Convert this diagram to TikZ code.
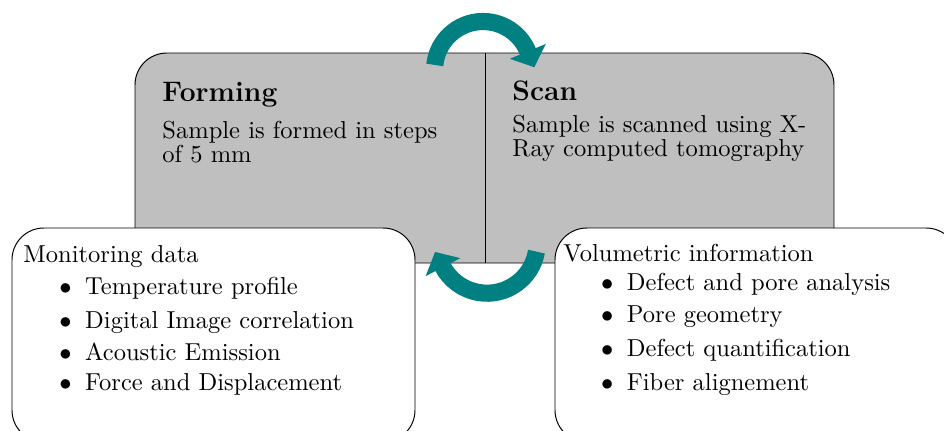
\documentclass[tikz,border=0pt]{standalone}
\usepackage{tikz}
\usetikzlibrary{arrows.meta}

\begin{document}
\begin{tikzpicture}[x=0.408pt, y=0.408pt,
		panel/.style={draw=black, fill=black!25, rounded corners=13pt},
		infobox/.style={draw=black, fill=white, rounded corners=13pt},
		cyclearrow/.style={draw=teal, line width=7pt, -{Triangle[length=7pt, width=15.5pt]}},
		title/.style={anchor=base west, inner sep=0pt, font=\fontsize{11.5}{14}\selectfont\bfseries},
		body/.style={anchor=base west, inner sep=0pt, align=left, font=\fontsize{10}{10}\selectfont},
		item/.style={anchor=base west, inner sep=0pt}]
		%%%%% START %%%%%
		\clip (0, 0) rectangle (944, 430);
		
		% forming / scan panel
		\draw[panel] (135, 167) rectangle (834, 377);
		\draw (485, 167) -- (485, 377);
		
		% base of a two-line node is its last line
		\node[title] (formtitle) at (162, 328.3) {Forming};
		\node[body] (formtext) at (162, 267.3) {Sample is formed in steps\\of 5 mm};
		
		\node[title] (scantitle) at (512, 330) {Scan};
		\node[body] (scantext) at (512, 273.3) {Sample is scanned using X-\\Ray computed tomography};
		
		% monitoring box
		\draw[infobox] (12, -12) rectangle (415, 202);
		\node[item] (monitor) at (23, 167.3) {Monitoring data};
		\foreach \y/\txt [count=\i] in {136/Temperature profile, 102/Digital Image correlation, 69.3/Acoustic Emission, 40/Force and Displacement}
			\node[item] (m\i) at (59, \y) {$\bullet$\hspace{5.5pt}\txt};
		
		% volumetric box
		\draw[infobox] (555, -12) rectangle (958, 202);
		\node[item] (volume) at (563, 168.3) {Volumetric information};
		\foreach \y/\txt [count=\i] in {140/Defect and pore analysis, 107.3/Pore geometry, 73.3/Defect quantification, 40/Fiber alignement}
			\node[item] (v\i) at (600.7, \y) {$\bullet$\hspace{5.5pt}\txt};
		
		% cycle arrows
		\coordinate (topc) at (483, 360);
		\coordinate (botc) at (487, 187);
		\draw[cyclearrow] ([shift={(174:48.5)}]topc) arc[start angle=174, end angle=22.4, radius=48.5] -- ++(-67.6:17);
		\draw[cyclearrow] ([shift={(-9.9:50.2)}]botc) arc[start angle=-9.9, end angle=-152.6, radius=50.2] -- ++(117.4:16);
		
		%%%%% END %%%%%
\end{tikzpicture}
\end{document}
